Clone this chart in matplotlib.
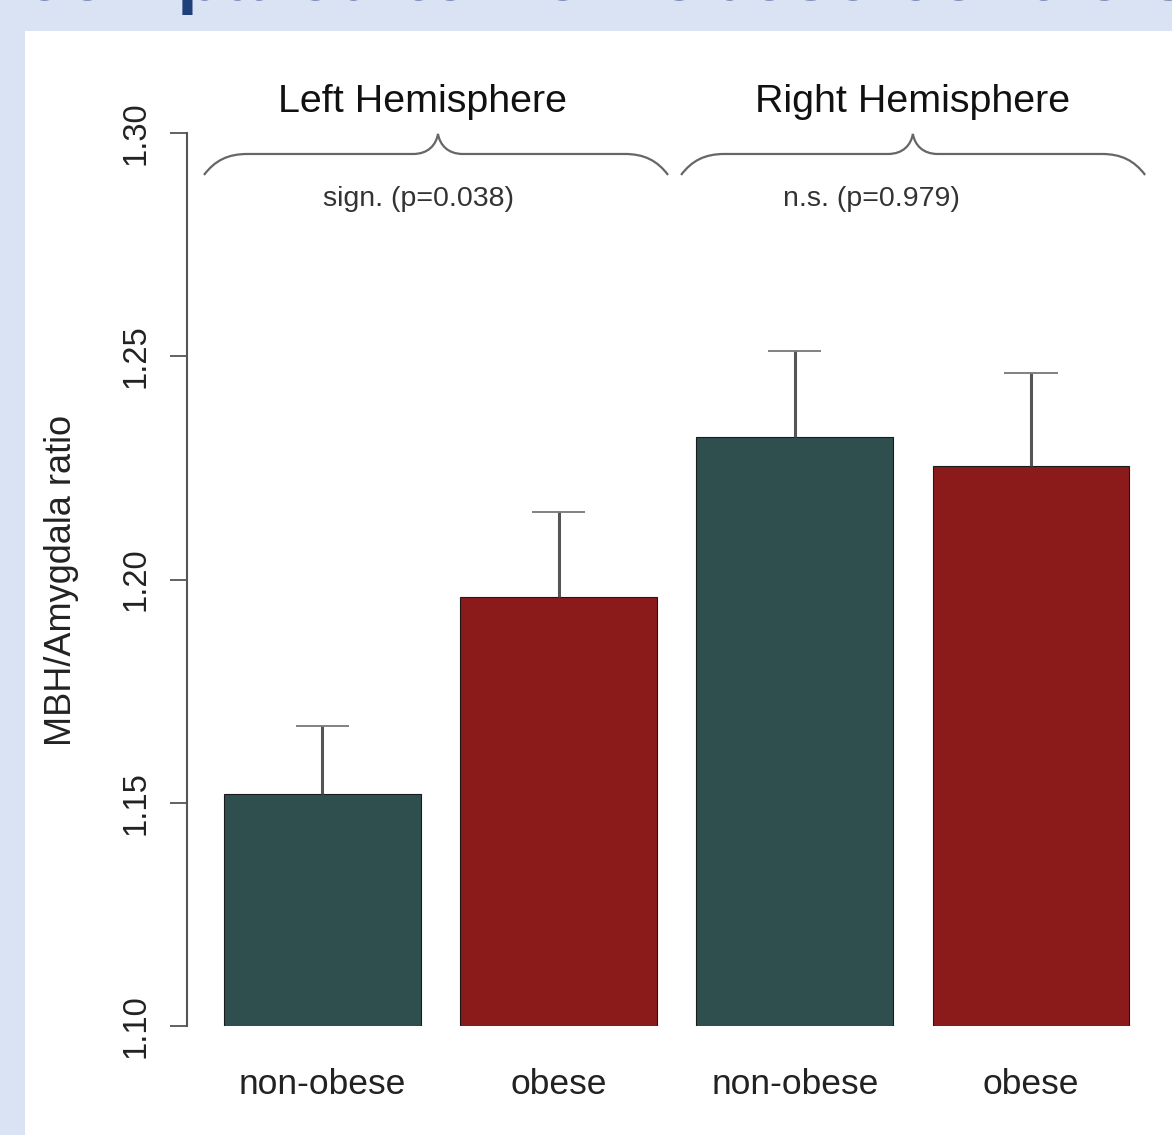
import numpy as np
import matplotlib.pyplot as plt
from matplotlib.patches import Rectangle, PathPatch
from matplotlib.path import Path

plt.rcParams['font.family'] = ['Liberation Sans', 'DejaVu Sans']

# datos
grupos = ["non-obese", "obese", "non-obese", "obese"]
ratio_media = [1.152, 1.196, 1.232, 1.2255]
ratio_sup = [1.1672, 1.2152, 1.2512, 1.2462]
colores = ["#2f4f4f", "#8b1a1a", "#2f4f4f", "#8b1a1a"]
hemisferios = ["Left Hemisphere", "Right Hemisphere"]
p_textos = ["sign. (p=0.038)", "n.s. (p=0.979)"]
y_ticks = [1.10, 1.15, 1.20, 1.25, 1.30]

W, H = 1172, 1135
fig = plt.figure(figsize=(W / 100, H / 100), dpi=100)
fig.patch.set_facecolor('#dae3f3')
fig.patches.append(Rectangle((25 / W, 0), 1 - 25 / W, 1 - 31 / H,
                             transform=fig.transFigure, facecolor='white',
                             edgecolor='none', zorder=-10))

# titulo de la diapositiva, cortado arriba
fig.text(23 / W, 1.0, "compared to non-obese controls", fontsize=54,
         fontweight='bold', color='#1f3f7a', ha='left', va='baseline')

ax = fig.add_axes([187 / W, 1 - 1026 / H, (1165 - 187) / W, (1026 - 133) / H])
ax.set_facecolor('none')
ax.set_zorder(5)
ax.set_ylim(1.10, 1.30)
ax.set_xlim(0.0117, 4.981)

pos = 0.7 + 1.2 * np.arange(len(grupos))
base = 1.10
ax.bar(pos, np.array(ratio_media) - base, bottom=base, width=1.0,
       color=colores, edgecolor='#1a1a1a', linewidth=0.8, zorder=2)
ax.vlines(pos, ratio_media, ratio_sup, color='#555555', linewidth=2.2, zorder=3)
ax.hlines(ratio_sup, pos - 0.135, pos + 0.135, color='#777777', linewidth=1.3, zorder=3)

for s in ['top', 'right', 'bottom']:
    ax.spines[s].set_visible(False)
ax.spines['left'].set_bounds(1.10, 1.30)
ax.spines['left'].set_color('#555555')
ax.spines['left'].set_linewidth(1.5)

ax.set_yticks(y_ticks)
ax.set_yticklabels([f"{v:.2f}" for v in y_ticks], rotation=90, va='center',
                   fontsize=23.5, color='#222222')
ax.tick_params(axis='y', length=12.5, width=1.3, color='#555555', pad=13)
ax.set_xticks(pos)
ax.set_xticklabels(grupos, fontsize=25.5, color='#222222')
ax.tick_params(axis='x', length=0, pad=30)

fig.text(62 / W, 1 - 580 / H, "MBH/Amygdala ratio", rotation=90, fontsize=26,
         color='#222222', ha='center', va='center')


def llave(ax, xl, xr, xt, y_fin, y_plano, y_pico, de=0.22, dt=0.127):
    verts = [(xl, y_fin),
             (xl + 0.055, y_plano - 0.0015), (xl + 0.12, y_plano), (xl + de, y_plano),
             (xt - dt, y_plano),
             (xt - 0.05, y_plano), (xt - 0.01, y_plano + 0.002), (xt, y_pico),
             (xt + 0.01, y_plano + 0.002), (xt + 0.05, y_plano), (xt + dt, y_plano),
             (xr - de, y_plano),
             (xr - 0.12, y_plano), (xr - 0.055, y_plano - 0.0015), (xr, y_fin)]
    codes = [Path.MOVETO,
             Path.CURVE4, Path.CURVE4, Path.CURVE4,
             Path.LINETO,
             Path.CURVE4, Path.CURVE4, Path.CURVE4,
             Path.CURVE4, Path.CURVE4, Path.CURVE4,
             Path.LINETO,
             Path.CURVE4, Path.CURVE4, Path.CURVE4]
    ax.add_patch(PathPatch(Path(verts, codes), facecolor='none',
                           edgecolor='#666666', linewidth=1.6, clip_on=False))


llave(ax, 0.098, 2.456, 1.287, 1.2906, 1.2953, 1.2998)
llave(ax, 2.522, 4.880, 3.700, 1.2906, 1.2953, 1.2998)

hem_x = [1.21, 3.70]
p_x = [1.186, 3.487]
for i in range(2):
    ax.text(hem_x[i], 1.3069, hemisferios[i], fontsize=28.4, color='#111111',
            ha='center', va='center', clip_on=False)
    ax.text(p_x[i], 1.2852, p_textos[i], fontsize=20.5, color='#333333',
            ha='center', va='center', clip_on=False)

plt.savefig("out.png", dpi=100, facecolor=fig.get_facecolor())
plt.close(fig)
